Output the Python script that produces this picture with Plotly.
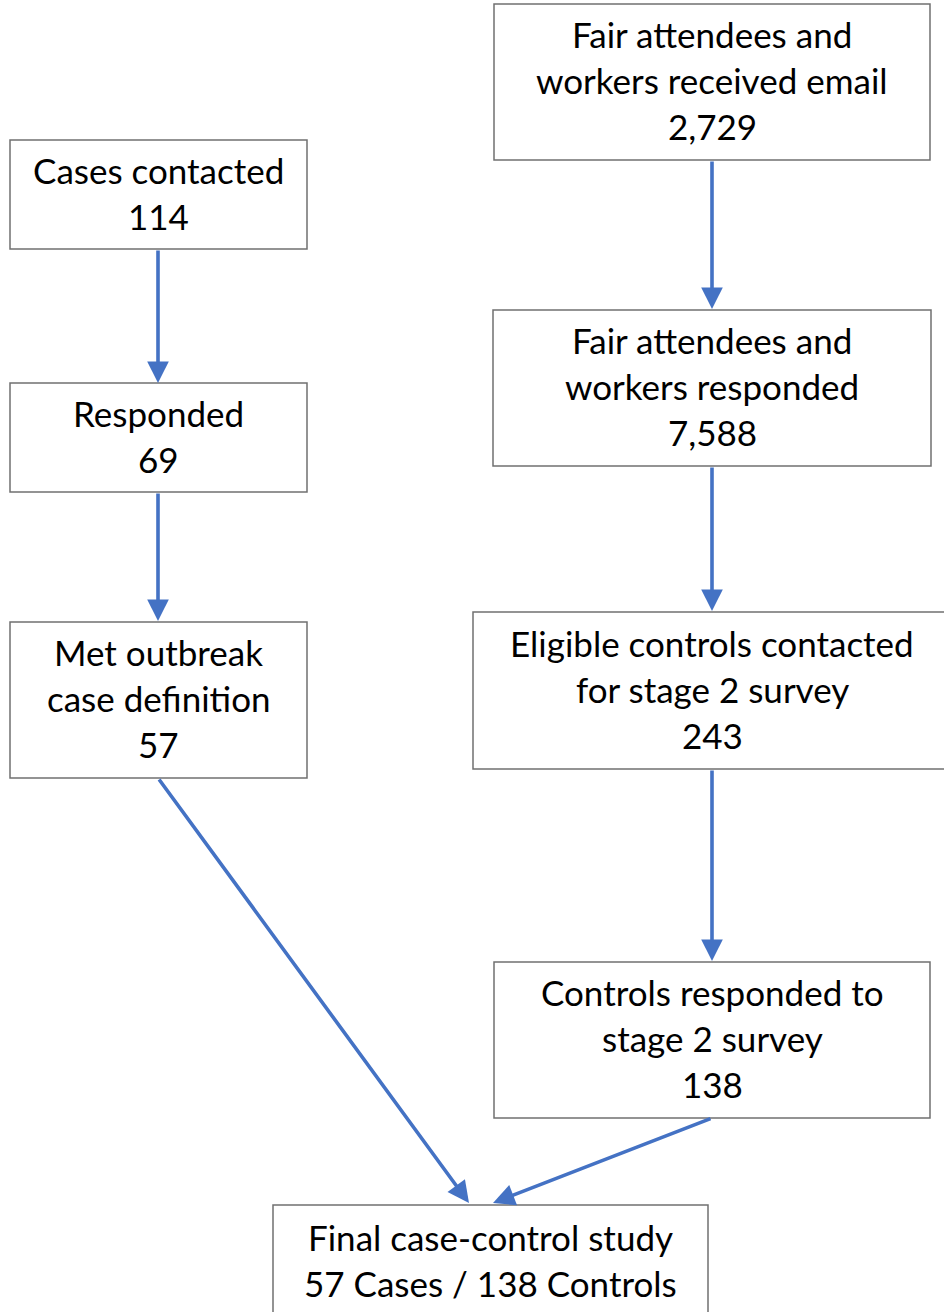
import plotly.graph_objects as go

# ---- data ----
box_titles = [
    ["Cases contacted"],
    ["Responded"],
    ["Met outbreak", "case definition"],
    ["Fair attendees and", "workers received email"],
    ["Fair attendees and", "workers responded"],
    ["Eligible controls contacted", "for stage 2 survey"],
    ["Controls responded to", "stage 2 survey"],
    ["Final case-control study"],
]
box_counts = ["114", "69", "57", "2,729", "7,588", "243", "138", "57 Cases / 138 Controls"]
links = [(0, 1), (1, 2), (3, 4), (4, 5), (5, 6), (2, 7), (6, 7)]

# ---- layout (pixel geometry) ----
boxes = [
    (10, 140, 307, 249),
    (10, 383, 307, 492),
    (10, 622, 307, 778),
    (494, 4, 930, 160),
    (493, 310, 931, 466),
    (473, 612, 951, 769),
    (494, 962, 930, 1118),
    (273, 1205, 708, 1318),
]
arrow_paths = {
    (0, 1): ((158, 249), (158, 383)),
    (1, 2): ((158, 492), (158, 621)),
    (3, 4): ((712, 160), (712, 309)),
    (4, 5): ((712, 466), (712, 611)),
    (5, 6): ((712, 769), (712, 961)),
    (2, 7): ((158, 778), (469, 1203)),
    (6, 7): ((712, 1118), (493, 1203)),
}
LINE_GAP = 46
TEXT_DY = -2
FONT = "Lato"
FSIZE = 35
ARROW_COLOR = "#4472C4"

fig = go.Figure()
shapes = []
annotations = []
for i, (x0, y0, x1, y1) in enumerate(boxes):
    shapes.append(dict(type="rect", xref="x", yref="y", x0=x0, y0=y0, x1=x1, y1=y1,
                       line=dict(color="#707070", width=1.5), fillcolor="white", layer="below"))
    lines = box_titles[i] + [box_counts[i]]
    cx = (x0 + x1) / 2
    cy = (y0 + y1) / 2 + TEXT_DY
    n = len(lines)
    for k, t in enumerate(lines):
        y = cy + (k - (n - 1) / 2) * LINE_GAP
        annotations.append(dict(x=cx, y=y, xref="x", yref="y", text=t, showarrow=False,
                                font=dict(family=FONT, size=FSIZE, color="black"),
                                xanchor="center", yanchor="middle"))

for key in links:
    (tx, ty), (hx, hy) = arrow_paths[key]
    annotations.append(dict(x=hx, y=hy, ax=tx, ay=ty, xref="x", yref="y", axref="x", ayref="y",
                            text="", showarrow=True, arrowhead=2, arrowsize=1.2, arrowwidth=3.6,
                            arrowcolor=ARROW_COLOR, standoff=0, startstandoff=0))

fig.update_layout(
    width=944, height=1312,
    margin=dict(l=0, r=0, t=0, b=0),
    paper_bgcolor="white", plot_bgcolor="white",
    shapes=shapes, annotations=annotations,
    xaxis=dict(range=[0, 944], visible=False, fixedrange=True),
    yaxis=dict(range=[1312, 0], visible=False, fixedrange=True),
    showlegend=False,
)
fig.write_html("out.html", config={"displayModeBar": False},
               post_script="document.body.style.margin='0';")
